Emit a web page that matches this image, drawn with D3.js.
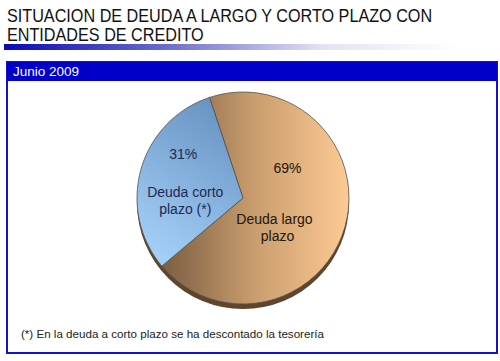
<!DOCTYPE html>
<html><head><meta charset="utf-8">
<script src="https://cdn.jsdelivr.net/npm/d3@7/dist/d3.min.js"></script>
<style>body{margin:0;background:#fff}svg{display:block;font-family:"Liberation Sans",Arial,sans-serif}</style>
</head><body><svg id="c" width="500" height="361"></svg>
<script>
// Data
const categories = ["Deuda largo plazo", "Deuda corto plazo (*)"];
const values = [69, 31];
const percentLabels = ["69%", "31%"];
const nameLines = [["Deuda largo", "plazo"], ["Deuda corto", "plazo (*)"]];
const titleLines = ["SITUACION DE DEUDA A LARGO Y CORTO PLAZO CON", "ENTIDADES DE CREDITO"];
const panelTitle = "Junio 2009";
const footnote = "(*) En la deuda a corto plazo se ha descontado la tesorería";

const svg = d3.select("#c");
const defs = svg.append("defs");

// title
svg.append("g").attr("transform", "translate(7,0) scale(0.9,1)")
  .selectAll("text").data(titleLines).join("text")
  .attr("x", 0).attr("y", (d, i) => 22 + i * 19)
  .attr("font-size", 18).attr("fill", "#111").text(d => d);

// gradient underline
const ug = defs.append("linearGradient").attr("id", "ug");
ug.append("stop").attr("offset", "0%").attr("stop-color", "#0808b8");
ug.append("stop").attr("offset", "35%").attr("stop-color", "#6a6acc");
ug.append("stop").attr("offset", "70%").attr("stop-color", "#e2e2f4");
ug.append("stop").attr("offset", "100%").attr("stop-color", "#ffffff");
svg.append("rect").attr("x", 4).attr("y", 44).attr("width", 455).attr("height", 6).attr("fill", "url(#ug)");

// panel
svg.append("rect").attr("x", 7).attr("y", 62).attr("width", 490).attr("height", 291)
  .attr("fill", "#fff").attr("stroke", "#1414c4").attr("stroke-width", 2);
svg.append("rect").attr("x", 7).attr("y", 62).attr("width", 490).attr("height", 19).attr("fill", "#0000c8");
svg.append("text").attr("x", 13).attr("y", 76).attr("font-size", 13.5).attr("fill", "#fff").text(panelTitle);

// footnote
svg.append("text").attr("x", 21).attr("y", 338).attr("font-size", 11.6).attr("fill", "#222").text(footnote);

// pie
const cx = 243, cy = 198, r = 106, depth = 5;
const startAngle = -18.4 * Math.PI / 180;
const pie = d3.pie().sort(null).startAngle(startAngle).endAngle(startAngle + 2 * Math.PI);
const arcs = pie(values);
const arc = d3.arc().innerRadius(0).outerRadius(r);

const og = defs.append("linearGradient").attr("id", "og").attr("gradientUnits", "userSpaceOnUse")
  .attr("x1", -r).attr("y1", 0).attr("x2", r).attr("y2", 0);
og.append("stop").attr("offset", "0%").attr("stop-color", "#6a5036");
og.append("stop").attr("offset", "22%").attr("stop-color", "#8c6c4c");
og.append("stop").attr("offset", "55%").attr("stop-color", "#c99d6d");
og.append("stop").attr("offset", "100%").attr("stop-color", "#fdca94");
const bg = defs.append("linearGradient").attr("id", "bg").attr("gradientUnits", "userSpaceOnUse")
  .attr("x1", -r).attr("y1", 60).attr("x2", 0).attr("y2", -r);
bg.append("stop").attr("offset", "0%").attr("stop-color", "#a8d4fb");
bg.append("stop").attr("offset", "100%").attr("stop-color", "#5f8abb");
const fills = ["url(#og)", "url(#bg)"];

const g = svg.append("g").attr("transform", `translate(${cx},${cy})`);
// depth / shadow
g.append("circle").attr("cy", depth).attr("r", r).attr("fill", "#5e452c");
g.selectAll("path.s").data(arcs).join("path").attr("class", "s")
  .attr("d", arc).attr("fill", (d, i) => fills[i])
  .attr("stroke", "#55504a").attr("stroke-width", 0.8).attr("stroke-linejoin", "round");

// labels
const labelR = [40, 60];
const pctOff = [[6, -36], [-2, -23]];
const nameOff = [[-7, 15], [0, 15]];
const textCol = ["#24160a", "#1c2a50"];
arcs.forEach((d, i) => {
  const c = d3.arc().innerRadius(labelR[i]).outerRadius(labelR[i]).centroid(d);
  g.append("text").attr("x", c[0] + pctOff[i][0]).attr("y", c[1] + pctOff[i][1])
    .attr("text-anchor", "middle").attr("font-size", 14).attr("fill", textCol[i]).text(percentLabels[i]);
  nameLines[i].forEach((t, j) => {
    g.append("text").attr("x", c[0] + nameOff[i][0] + (i === 0 && j === 1 ? 3 : 0)).attr("y", c[1] + nameOff[i][1] + j * 17)
      .attr("text-anchor", "middle").attr("font-size", 14).attr("fill", textCol[i]).text(t);
  });
});
</script></body></html>
